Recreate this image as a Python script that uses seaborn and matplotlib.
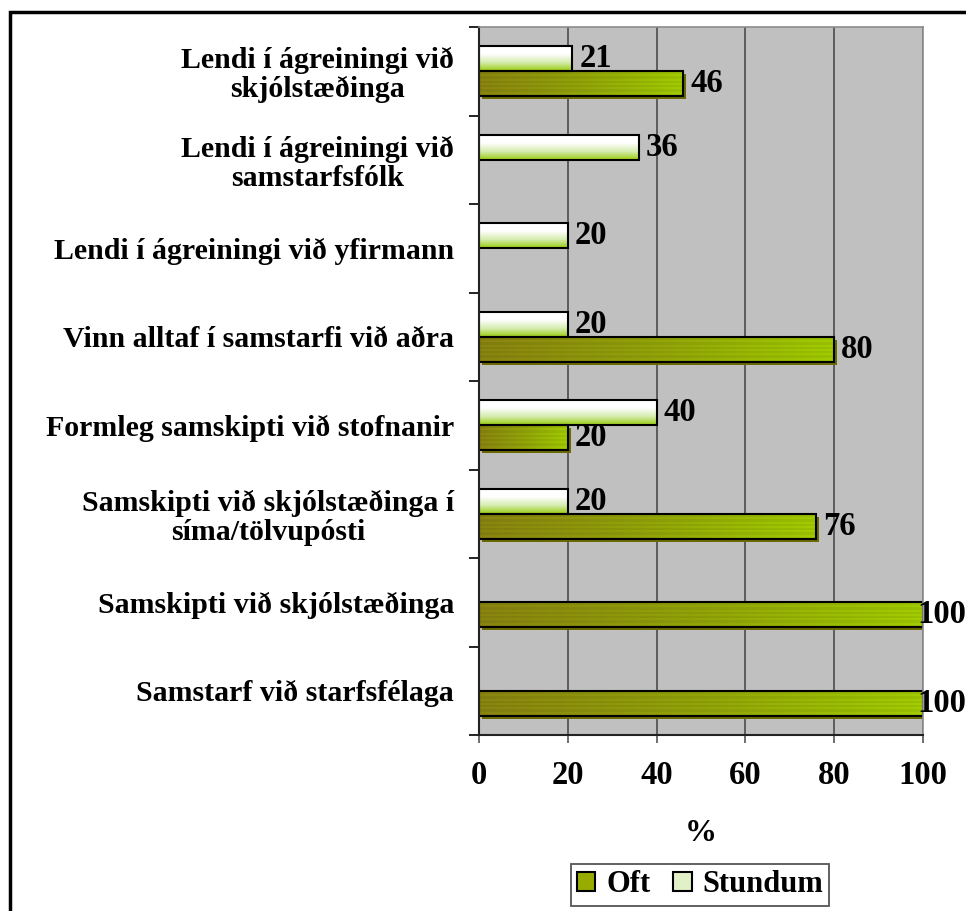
import numpy as np
import pandas as pd
import seaborn as sns
import matplotlib.pyplot as plt
from matplotlib.patches import Patch, Rectangle
from matplotlib.colors import LinearSegmentedColormap
from matplotlib import transforms

# ─── Data ─────────────────────────────────────────────────────────────────────

categories = [
    "Lendi í ágreiningi við\nskjólstæðinga",
    "Lendi í ágreiningi við\nsamstarfsfólk",
    "Lendi í ágreiningi við yfirmann",
    "Vinn alltaf í samstarfi við aðra",
    "Formleg samskipti við stofnanir",
    "Samskipti við skjólstæðinga í\nsíma/tölvupósti",
    "Samskipti við skjólstæðinga",
    "Samstarf við starfsfélaga",
]
stundum = [21, 36, 20, 20, 40, 20, None, None]
oft = [46, None, None, 80, 20, 76, 100, 100]
x_ticks = [0, 20, 40, 60, 80, 100]

df = pd.DataFrame({
    "category": categories * 2,
    "series": ["Stundum"] * len(categories) + ["Oft"] * len(categories),
    "value": stundum + oft,
}).dropna()

# Style
sns.set_style("white")
plt.rcParams["font.family"] = ["Liberation Serif", "DejaVu Serif"]
plt.rcParams["font.weight"] = "bold"
plt.rcParams["text.color"] = "black"
plt.rcParams["axes.labelcolor"] = "black"
plt.rcParams["xtick.labelcolor"] = "black"
plt.rcParams["ytick.labelcolor"] = "black"

fig = plt.figure(figsize=(9.66, 9.11), dpi=100)
ax = fig.add_axes([479 / 966, 1 - 735 / 911, (923 - 479) / 966, (735 - 27) / 911])

sns.barplot(
    data=df, y="category", x="value", hue="series",
    order=categories, hue_order=["Stundum", "Oft"], orient="h",
    width=0.57, ax=ax, legend=False, saturation=1,
    edgecolor="black", linewidth=1.5,
)

# ─── Gradient fills ───────────────────────────────────────────────────────────

cmap_st = LinearSegmentedColormap.from_list("st", ["#ffffff", "#ffffff", "#d6ecb0", "#9acd10"])
cmap_oft = LinearSegmentedColormap.from_list("oft", ["#8a8410", "#92a408", "#a2cc00"])

st_img = np.linspace(0, 1, 64).reshape(-1, 1)
oft_img = np.tile(np.linspace(0, 1, 256), (12, 1))
stripes = np.where(np.arange(12) % 2 == 0, 0.0, 0.06).reshape(-1, 1)
oft_rgb = cmap_oft(oft_img)[..., :3] * (1 - stripes[..., None])

shadow_tr = transforms.offset_copy(ax.transData, fig, x=3, y=-3, units="dots")

for series_idx, container in enumerate(ax.containers):
    for bar in container:
        x0, y0 = bar.get_x(), bar.get_y()
        w, h = bar.get_width(), bar.get_height()
        if series_idx == 0:
            im = ax.imshow(st_img, cmap=cmap_st, aspect="auto",
                           extent=[x0, x0 + w, y0 + h, y0], zorder=1.5)
        else:
            shadow = Rectangle((x0, y0), w, h, transform=shadow_tr,
                               facecolor="#6b6a00", edgecolor="none", zorder=1.2)
            ax.add_patch(shadow)
            im = ax.imshow(oft_rgb, aspect="auto", interpolation="nearest",
                           extent=[x0, x0 + w, y0 + h, y0], zorder=1.5)
        im.set_clip_path(bar)
        bar.set_facecolor("none")
        bar.set_zorder(2)
        # the 100 labels sit right at the figure edge, pull them in a little
        pad = -4 if w >= 100 else 5
        ax.annotate(f"{w:g}", xy=(w, y0 + h / 2), xytext=(pad, 0),
                    textcoords="offset points", ha="left", va="center",
                    fontsize=23.5, fontweight="bold", annotation_clip=False, zorder=3)

# ─── Axes styling ─────────────────────────────────────────────────────────────

ax.set_facecolor("#c0c0c0")
ax.set_xlim(0, 100)
ax.set_ylim(len(categories) - 0.5, -0.5)
ax.set_xticks(x_ticks)
ax.set_xticklabels([str(t) for t in x_ticks], fontsize=23.5, fontweight="bold")
ax.set_yticks(range(len(categories)))
ax.set_yticklabels(categories, fontsize=21.5, fontweight="bold", linespacing=1.08)
for t in ax.get_yticklabels():
    t.set_multialignment("center")
ax.set_yticks(np.arange(-0.5, len(categories)), minor=True)
ax.tick_params(axis="y", which="major", length=0, pad=18)
ax.tick_params(axis="y", which="minor", length=7, width=1.2, color="black", left=True)
ax.tick_params(axis="x", length=6, width=1.2, color="#555555", pad=12, bottom=True)

ax.grid(axis="x", color="#555555", linewidth=1.3)
ax.grid(axis="y", visible=False)
ax.set_axisbelow(True)

ax.set_xlabel("%", fontsize=23, fontweight="bold", labelpad=20)
ax.set_ylabel("")

for side in ["left", "bottom"]:
    ax.spines[side].set_color("#222222")
    ax.spines[side].set_linewidth(1.5)
for side in ["top", "right"]:
    ax.spines[side].set_color("#8c8c8c")
    ax.spines[side].set_linewidth(1.2)

# ─── Legend and outer frame ───────────────────────────────────────────────────

handles = [
    Patch(facecolor="#98ac00", edgecolor="black", linewidth=1.5, label="Oft"),
    Patch(facecolor="#e2f0c8", edgecolor="black", linewidth=1.5, label="Stundum"),
]
leg = fig.legend(handles=handles, loc="center", bbox_to_anchor=(700 / 966, 1 - 885 / 911),
                 ncol=2, frameon=True, fancybox=False, framealpha=1, edgecolor="#555555",
                 prop={"size": 22, "weight": "bold"}, handlelength=0.6, handleheight=0.6,
                 handletextpad=0.35, columnspacing=0.75, borderpad=0.2, borderaxespad=0)
leg.get_frame().set_linewidth(1.3)

fig.patches.append(Rectangle((10 / 966, -0.05), 1.2, (911 - 12) / 911 + 0.05,
                             transform=fig.transFigure, fill=False,
                             edgecolor="black", linewidth=2.5))

fig.savefig("out.png", dpi=100)
